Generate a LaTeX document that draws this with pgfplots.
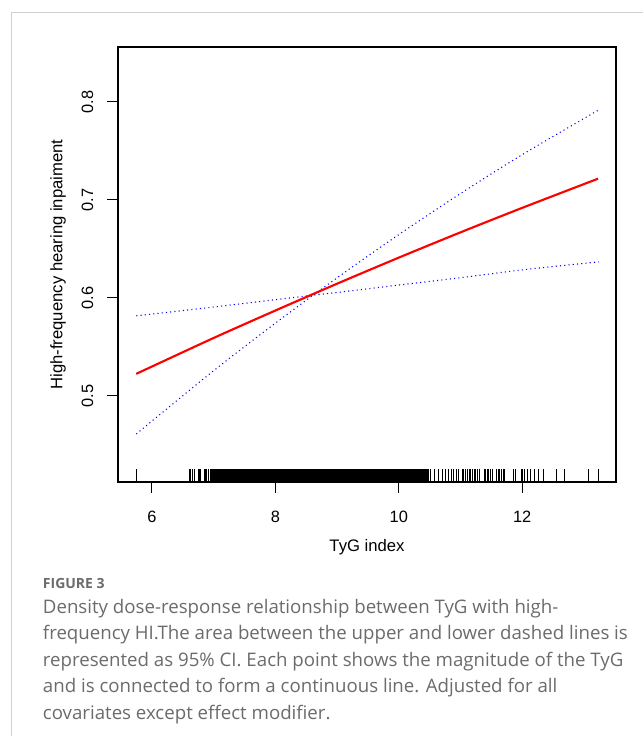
\documentclass[border=0pt]{standalone}
\usepackage{fontspec}
\setmainfont{Liberation Sans}
\newfontfamily\capfont{Open Sans}
\usepackage{pgfplots}
\pgfplotsset{compat=1.18}
\definecolor{capgray}{HTML}{6B6B6B}
\definecolor{framegray}{HTML}{D0D0D0}

% rug of observed TyG values (sparse part)
\pgfplotstableread{
x y
5.746 0.4253
6.61 0.4253
6.63 0.4253
6.65 0.4253
6.68 0.4253
6.69 0.4253
6.75 0.4253
6.77 0.4253
6.78 0.4253
6.85 0.4253
6.87 0.4253
6.89 0.4253
6.91 0.4253
10.51 0.4253
10.58 0.4253
10.65 0.4253
10.70 0.4253
10.76 0.4253
10.81 0.4253
10.85 0.4253
10.88 0.4253
10.94 0.4253
10.96 0.4253
11.03 0.4253
11.05 0.4253
11.08 0.4253
11.11 0.4253
11.14 0.4253
11.16 0.4253
11.19 0.4253
11.22 0.4253
11.24 0.4253
11.27 0.4253
11.31 0.4253
11.38 0.4253
11.41 0.4253
11.43 0.4253
11.46 0.4253
11.49 0.4253
11.51 0.4253
11.58 0.4253
11.61 0.4253
11.63 0.4253
11.66 0.4253
11.69 0.4253
11.71 0.4253
11.85 0.4253
11.89 0.4253
11.98 0.4253
12.01 0.4253
12.04 0.4253
12.08 0.4253
12.14 0.4253
12.19 0.4253
12.27 0.4253
12.34 0.4253
12.56 0.4253
12.69 0.4253
13.08 0.4253
13.24 0.4253
}\rugtable

\begin{document}
\begin{tikzpicture}
\path[use as bounding box] (0,0) rectangle (482.25pt,552pt);
\draw[framegray, line width=0.8pt] (8.8pt,0) -- (8.8pt,542.5pt) -- (482.25pt,542.5pt);
\begin{axis}[
    at={(88.5pt,190.5pt)}, anchor=south west,
    scale only axis,
    width=373.5pt, height=326.25pt,
    xmin=5.45, xmax=13.52,
    ymin=0.412, ymax=0.856,
    axis line style={line width=0.8pt},
    xtick={6,8,10,12},
    ytick={0.5,0.6,0.7,0.8},
    xtick pos=bottom, ytick pos=left,
    tick align=outside,
    major tick length=8.25pt,
    tick style={line width=0.8pt, black},
    tick label style={font=\fontsize{12.3}{14}\selectfont},
    label style={font=\fontsize{12.5}{14}\selectfont},
    /pgf/number format/assume math mode=true,
    xticklabel style={anchor=center, yshift=-18pt},
    yticklabel style={xshift=-14.6pt, rotate=90, anchor=center},
    xlabel={TyG index},
    ylabel={High-frequency hearing inpaiment},
    xlabel style={at={(axis description cs:0.5,-0.1494)}, anchor=center},
    ylabel style={at={(axis description cs:-0.1205,0.5)}, anchor=center},
]
% rug
\addplot[ycomb, black, line width=0.6pt, mark=none] table {\rugtable};
\addplot[fill=black, draw=none] coordinates {
    (6.935,0.412) (10.49,0.412) (10.49,0.4253) (6.935,0.4253)} -- cycle;
% 95% CI (dotted)
\addplot[blue, line width=0.8pt, dash pattern=on 0.8pt off 2.4pt, smooth] coordinates {
    (5.746,0.461) (7,0.5256) (8,0.5741) (9,0.6204) (10,0.6645) (11,0.7064) (12,0.7461) (13.24,0.7918)};
\addplot[blue, line width=0.8pt, dash pattern=on 0.8pt off 2.4pt, smooth] coordinates {
    (5.746,0.5816) (7,0.5906) (8,0.5981) (9,0.6055) (10,0.6130) (11,0.6205) (12,0.6285) (13.24,0.6367)};
% estimate
\addplot[red, line width=1.6pt, smooth] coordinates {
    (5.746,0.5224) (7,0.559) (8,0.5870) (9,0.6144) (10,0.6410) (11,0.6668) (12,0.6918) (13.23,0.7216)};
\end{axis}
\node[anchor=base west, font=\capfont\bfseries\fontsize{10.5}{12}\selectfont, text=capgray, inner sep=0pt] at (32pt,110.8pt) {FIGURE 3};
\begin{scope}[every node/.style={anchor=base west, font=\capfont\fontsize{14}{16}\selectfont, text=capgray, inner sep=0pt}]
\node at (32pt,92.0pt) {Density dose-response relationship between TyG with high-};
\node at (32pt,72.1pt) {frequency HI.The area between the upper and lower dashed lines is};
\node at (32pt,52.3pt) {represented as 95\% CI. Each point shows the magnitude of the TyG};
\node at (32pt,32.4pt) {and is connected to form a continuous line. Adjusted for all};
\node at (32pt,12.5pt) {covariates except effect modifier.};
\end{scope}
\end{tikzpicture}
\end{document}
